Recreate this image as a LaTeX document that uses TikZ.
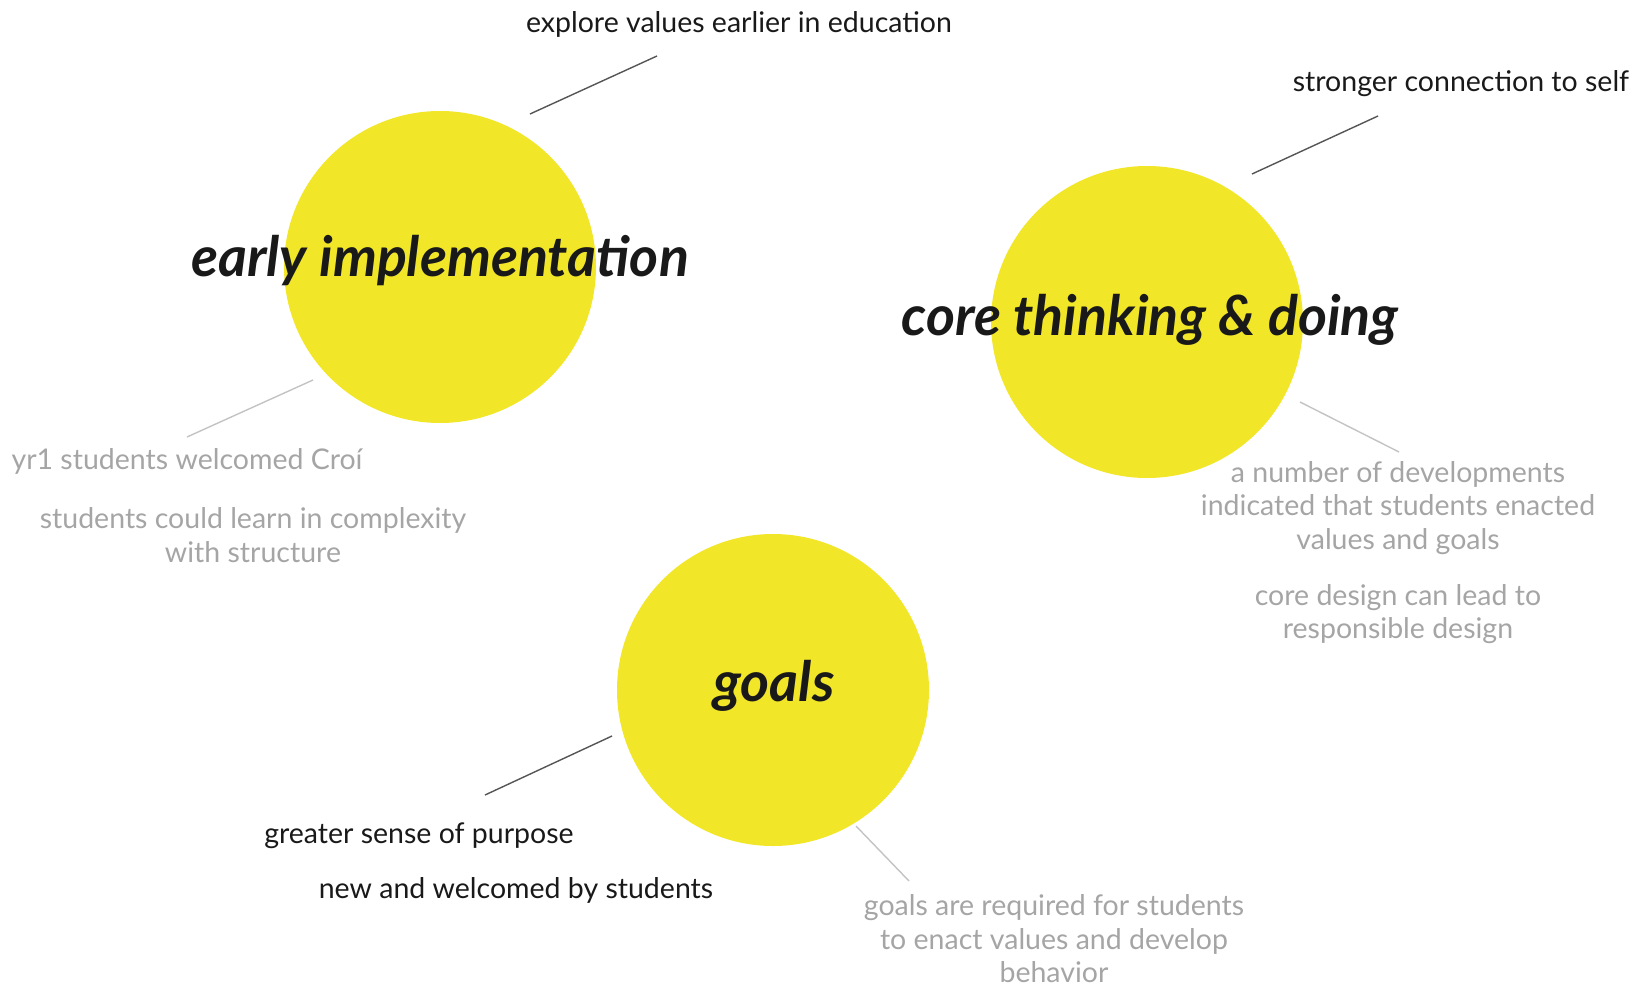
\documentclass[tikz,border=0pt]{standalone}
\usepackage{fontspec}
\setmainfont{Lato}
\definecolor{sunyellow}{RGB}{242,230,40}
\definecolor{darktext}{RGB}{25,25,25}
\definecolor{lighttext}{RGB}{165,165,165}
\definecolor{darkline}{RGB}{85,85,85}
\definecolor{lightline}{RGB}{195,195,195}
\begin{document}
\begin{tikzpicture}[x=1pt,y=-1pt,
  blob/.style={circle,fill=sunyellow,minimum size=312pt,inner sep=0pt},
  title/.style={font=\fontsize{55.5}{60}\selectfont\itshape\bfseries,text=darktext,inner sep=0pt},
  darklabel/.style={font=\fontsize{28.5}{33.5}\selectfont,text=darktext,align=center,inner sep=0pt},
  lightlabel/.style={font=\fontsize{28.5}{33.5}\selectfont,text=lighttext,align=center,inner sep=0pt},
  darkconn/.style={draw=darkline,line width=1.4pt},
  lightconn/.style={draw=lightline,line width=1.4pt}]
\useasboundingbox (0,0) rectangle (1640,987);
% circles
\node[blob] (c1) at (440,267) {};
\node[blob] (c2) at (1147,322) {};
\node[blob] (c3) at (773,690) {};
% titles
\node[title] (t1) at (440,261) {early implementation};
\node[title] (t2) at (1150,320) {core thinking \& doing};
\node[title] (t3) at (774,686) {goals};
% labels
\node[darklabel] (l1) at (739,24) {explore values earlier in education};
\node[darklabel] (l2) at (1461,84) {stronger connection to self};
\node[lightlabel] (l3) at (187,461) {yr1 students welcomed Croí};
\node[lightlabel] (l4) at (253,535) {students could learn in complexity\\with structure};
\node[lightlabel] (l5) at (1398,508) {a number of developments\\indicated that students enacted\\values and goals};
\node[lightlabel] (l6) at (1398,614) {core design can lead to\\responsible design};
\node[darklabel] (l7) at (419,836) {greater sense of purpose};
\node[darklabel] (l8) at (516,890) {new and welcomed by students};
\node[lightlabel] (l9) at (1054,939) {goals are required for students\\to enact values and develop\\behavior};
% connector end points
\coordinate (a1) at (530,114); \coordinate (b1) at (657,56);
\coordinate (a2) at (1252,174); \coordinate (b2) at (1378,116);
\coordinate (a3) at (313,380); \coordinate (b3) at (187,437);
\coordinate (a4) at (1300,402); \coordinate (b4) at (1399,452);
\coordinate (a5) at (612,736); \coordinate (b5) at (485,795);
\coordinate (a6) at (856,826); \coordinate (b6) at (909,881);
\draw[darkconn] (a1) -- (b1);
\draw[darkconn] (a2) -- (b2);
\draw[lightconn] (a3) -- (b3);
\draw[lightconn] (a4) -- (b4);
\draw[darkconn] (a5) -- (b5);
\draw[lightconn] (a6) -- (b6);
\end{tikzpicture}
\end{document}
